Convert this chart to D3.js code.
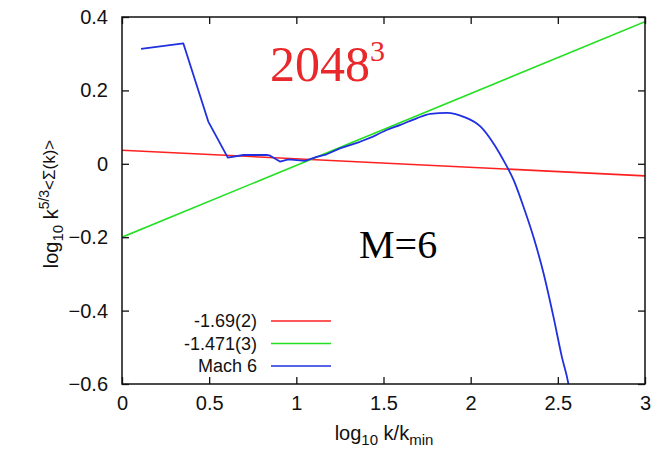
<!doctype html>
<html>
<head>
<meta charset="utf-8">
<title>Mach 6 spectrum</title>
<script src="https://cdnjs.cloudflare.com/ajax/libs/d3/7.8.5/d3.min.js"></script>
<style>
  body { margin: 0; background: #fff; }
  text { font-family: "Liberation Sans", Arial, sans-serif; }
</style>
</head>
<body>
<div id="chart"></div>
<script>
// data
const xTicks = [0, 0.5, 1, 1.5, 2, 2.5, 3];
const yTicks = [0.4, 0.2, 0, -0.2, -0.4, -0.6];

// fitted power laws (log10 k^(5/3) E) : intercept, slope
const fitNames = ["-1.69(2)", "-1.471(3)"];
const fitIntercepts = [0.037, -0.2];
const fitSlopes = [-0.0233, 0.1957];

// Mach 6 compensated spectrum
const machX = [0.109, 0.352, 0.495, 0.607, 0.696, 0.83, 0.85, 0.906, 0.955, 1.05, 1.117, 1.174,
  1.25, 1.365, 1.44, 1.518, 1.597, 1.69, 1.769, 1.865, 1.96, 2.057, 2.13, 2.198, 2.246, 2.303,
  2.36, 2.418, 2.475, 2.523, 2.56, 2.58];
const machY = [0.313, 0.328, 0.115, 0.017, 0.024, 0.024, 0.022, 0.006, 0.012, 0.008, 0.019, 0.026,
  0.042, 0.06, 0.074, 0.092, 0.106, 0.124, 0.136, 0.139, 0.128, 0.101, 0.056, 0.001, -0.044, -0.117,
  -0.199, -0.298, -0.417, -0.526, -0.598, -0.66];

const colors = ["#ff2020", "#20e020", "#2030e0"];

const W = 653, H = 455;
const m = { left: 122, right: 8, top: 17, bottom: 71 };

const svg = d3.select("#chart").append("svg")
  .attr("width", W).attr("height", H);

const x = d3.scaleLinear().domain([0, 3]).range([m.left, W - m.right]);
const y = d3.scaleLinear().domain([-0.6, 0.4]).range([H - m.bottom, m.top]);

svg.append("clipPath").attr("id", "clip")
  .append("rect")
  .attr("x", m.left).attr("y", m.top)
  .attr("width", W - m.left - m.right).attr("height", H - m.top - m.bottom);

const plot = svg.append("g").attr("clip-path", "url(#clip)");

// fit lines
fitNames.forEach((n, i) => {
  plot.append("line")
    .attr("x1", x(0)).attr("y1", y(fitIntercepts[i]))
    .attr("x2", x(3)).attr("y2", y(fitIntercepts[i] + 3 * fitSlopes[i]))
    .attr("stroke", colors[i]).attr("stroke-width", 1.6);
});

// Mach 6 curve: jagged at low k, smooth in the dissipation range
const machData = machX.map((v, i) => [v, machY[i]]);
const split = 1.44;
const lineLin = d3.line().x(d => x(d[0])).y(d => y(d[1]));
const lineSmooth = d3.line().x(d => x(d[0])).y(d => y(d[1])).curve(d3.curveMonotoneX);
plot.append("path")
  .datum(machData.filter(d => d[0] <= split))
  .attr("fill", "none").attr("stroke", colors[2]).attr("stroke-width", 1.8)
  .attr("stroke-linejoin", "round")
  .attr("d", lineLin);
plot.append("path")
  .datum(machData.filter(d => d[0] >= split))
  .attr("fill", "none").attr("stroke", colors[2]).attr("stroke-width", 1.8)
  .attr("d", lineSmooth);

// axes with inward ticks
const tl = 7;
const fs = 20;
const gBottom = svg.append("g").attr("transform", `translate(0,${H - m.bottom})`)
  .call(d3.axisBottom(x).tickValues(xTicks).tickSizeInner(-tl).tickSizeOuter(0).tickPadding(12)
    .tickFormat(d3.format("")));
const gLeft = svg.append("g").attr("transform", `translate(${m.left},0)`)
  .call(d3.axisLeft(y).tickValues(yTicks).tickSizeInner(-tl).tickSizeOuter(0).tickPadding(14)
    .tickFormat(d => d === 0 ? "0" : d3.format(".1f")(d)));
const gTop = svg.append("g").attr("transform", `translate(0,${m.top})`)
  .call(d3.axisTop(x).tickValues(xTicks).tickSizeInner(-tl).tickSizeOuter(0).tickFormat(""));
const gRight = svg.append("g").attr("transform", `translate(${W - m.right},0)`)
  .call(d3.axisRight(y).tickValues(yTicks).tickSizeInner(-tl).tickSizeOuter(0).tickFormat(""));

[gBottom, gLeft, gTop, gRight].forEach(g => {
  g.selectAll(".domain").remove();
  g.selectAll("line").attr("stroke", "#111").attr("stroke-width", 1.3);
  g.selectAll("text").attr("font-size", fs).attr("fill", "#111")
    .style("font-family", "'Liberation Sans', Arial, sans-serif");
});

svg.append("rect")
  .attr("x", m.left).attr("y", m.top)
  .attr("width", W - m.left - m.right).attr("height", H - m.top - m.bottom)
  .attr("fill", "none").attr("stroke", "#111").attr("stroke-width", 1.5);

// axis titles
const xl = svg.append("text")
  .attr("x", 384).attr("y", 440)
  .attr("text-anchor", "middle").attr("font-size", fs).attr("fill", "#111");
xl.append("tspan").text("log");
xl.append("tspan").attr("font-size", 15).attr("dy", 5).text("10");
xl.append("tspan").attr("dy", -5).text(" k/k");
xl.append("tspan").attr("font-size", 15).attr("dy", 5).text("min");

const yl = svg.append("text")
  .attr("transform", `translate(58,204) rotate(-90)`)
  .attr("text-anchor", "middle").attr("font-size", fs).attr("fill", "#111");
yl.append("tspan").text("log");
yl.append("tspan").attr("font-size", 15).attr("dy", 5).text("10");
yl.append("tspan").attr("dy", -5).text(" k");
yl.append("tspan").attr("font-size", 14).attr("dy", -9).text("5/3");
yl.append("tspan").attr("font-size", 17).attr("dy", 6).text("<Σ(k)>");

// annotations
const ann = svg.append("text")
  .attr("x", 270).attr("y", 81)
  .style("font-family", "'Liberation Serif', 'Times New Roman', serif")
  .attr("font-size", 50).attr("fill", "#e8282a");
ann.append("tspan").text("2048");
ann.append("tspan").attr("font-size", 30).attr("dy", -20).text("3");

svg.append("text")
  .attr("x", 359).attr("y", 258)
  .style("font-family", "'Liberation Serif', 'Times New Roman', serif")
  .attr("font-size", 40).attr("fill", "#000")
  .text("M=6");

// legend
const legNames = fitNames.concat(["Mach 6"]);
const leg = svg.append("g");
legNames.forEach((n, i) => {
  const yy = 321 + i * 22.5;
  leg.append("text")
    .attr("x", 257).attr("y", yy + 6)
    .attr("text-anchor", "end").attr("font-size", 18).attr("fill", "#111")
    .text(n);
  leg.append("line")
    .attr("x1", 271).attr("x2", 331).attr("y1", yy).attr("y2", yy)
    .attr("stroke", colors[i]).attr("stroke-width", 1.6);
});
</script>
</body>
</html>
